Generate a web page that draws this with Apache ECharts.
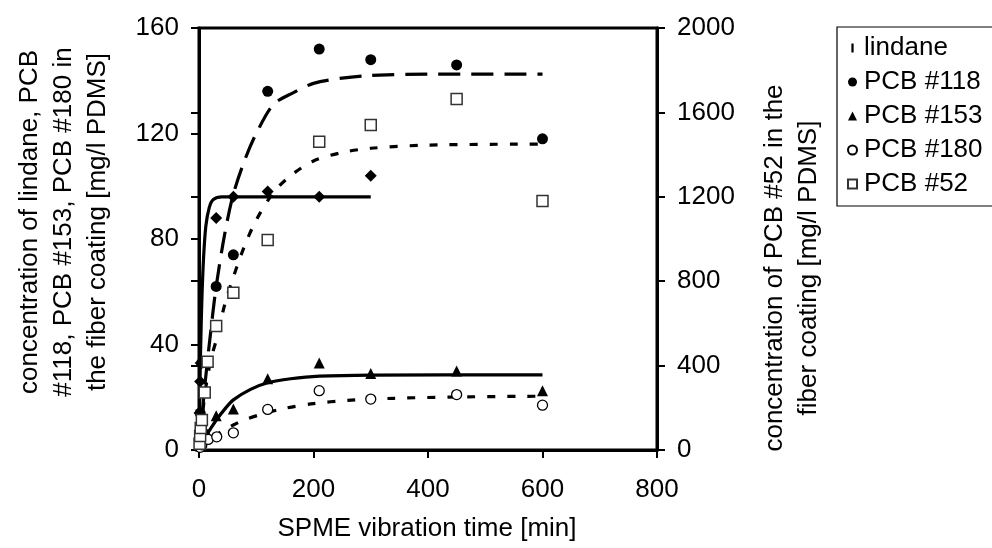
<!DOCTYPE html>
<html>
<head>
<meta charset="utf-8">
<script src="https://cdn.jsdelivr.net/npm/echarts@6/dist/echarts.min.js"></script>
<style>html,body{margin:0;padding:0;background:#fff}#c{width:992px;height:548px}</style>
</head>
<body>
<div id="c"></div>
<script>
// ---- measured points (x = vibration time in min) ----
var lindaneT = [1, 2, 3, 30, 60, 120, 210, 300];
var lindaneV = [14, 26, 33, 88, 96, 98, 96, 104];
var pcb118T = [2, 5, 30, 60, 120, 210, 300, 450, 600];
var pcb118V = [14, 33, 62, 74, 136, 152, 148, 146, 118];
var pcb153T = [2, 5, 15, 30, 60, 120, 210, 300, 450, 600];
var pcb153V = [1.5, 3, 6, 13, 15.5, 27, 33, 29, 30, 22.5];
var pcb180T = [2, 5, 16, 31, 60, 120, 210, 300, 450, 600];
var pcb180V = [1, 2, 4, 5, 6.5, 15.4, 22.5, 19.3, 21, 17];
var pcb52T = [1, 2, 3, 5, 10, 15, 30, 60, 120, 210, 300, 450, 600];
var pcb52V = [30, 66, 104, 142, 272, 418, 588, 745, 995, 1461, 1540, 1663, 1180];

// ---- fitted curves ----
var fitLindaneT = [0, 1, 2, 3, 5, 8, 12, 18, 25, 40, 300];
var fitLindaneV = [0, 16, 29, 40, 57, 73, 85, 92, 95, 96, 96];
var fit118T = [0, 10, 20, 30, 45, 60, 80, 100, 130, 165, 200, 250, 300, 400, 600];
var fit118V = [0, 24, 44, 62, 82, 97, 110, 120, 131, 135.5, 139, 141, 142, 142.5, 142.5];
var fit153T = [0, 10, 20, 30, 45, 60, 90, 120, 160, 210, 300, 600];
var fit153V = [0, 4.5, 8, 11.3, 15.5, 19, 23, 25.5, 27, 28, 28.4, 28.5];
var fit180T = [0, 10, 20, 30, 45, 60, 80, 110, 150, 200, 260, 340, 450, 600];
var fit180V = [0, 2, 3.9, 5.6, 7.8, 9.5, 11.5, 13.6, 15.8, 17.6, 18.8, 19.6, 20.1, 20.4];
var fit52T = [0, 10, 20, 30, 45, 60, 80, 100, 130, 160, 200, 250, 300, 400, 600];
var fit52V = [0, 260, 420, 520, 690, 820, 970, 1090, 1220, 1300, 1370, 1410, 1430, 1445, 1450];

// ---- axis ticks ----
var xTicks = [0, 200, 400, 600, 800];
var yLeftTicks = [0, 40, 80, 120, 160];
var yRightTicks = [0, 400, 800, 1200, 1600, 2000];

function pairs(t, v) { return t.map(function (x, i) { return [x, v[i]]; }); }

var FONT = '"Liberation Sans", Arial, sans-serif';
var FS = 26;
var chart = echarts.init(document.getElementById('c'), null, {renderer: 'canvas'});

function fitSeries(name, t, v, yIdx, type) {
  return {
    name: name, type: 'line', yAxisIndex: yIdx, data: pairs(t, v),
    showSymbol: false, symbol: 'none', smooth: 0.3, silent: true, z: 2,
    lineStyle: {color: '#000', width: 3.2, type: type, cap: 'butt'}
  };
}
function ptSeries(name, t, v, yIdx, symbol, size, fill, border, bw) {
  return {
    name: name, type: 'scatter', yAxisIndex: yIdx, data: pairs(t, v),
    symbol: symbol, symbolSize: size, z: 3,
    itemStyle: {color: fill, borderColor: border, borderWidth: bw, opacity: 1}
  };
}
function plain(v) { return String(v); }

var option = {
  animation: false,
  backgroundColor: '#fff',
  textStyle: {fontFamily: FONT, color: '#000'},
  grid: {left: 199, right: 335, top: 28, bottom: 98, show: true,
         borderColor: '#000', borderWidth: 3, backgroundColor: 'transparent'},
  legend: {
    orient: 'vertical', left: 837, top: 27,
    padding: [8, 40, 9, 10], itemGap: 8, itemWidth: 9, itemHeight: 9,
    borderColor: '#000', borderWidth: 1.2,
    textStyle: {fontFamily: FONT, fontSize: FS, color: '#000', padding: [0, 0, 0, 2]},
    data: [
      {name: 'lindane', icon: 'path://M0,0 L2,0 L2,8 L0,8 Z'},
      {name: 'PCB #118'}, {name: 'PCB #153'}, {name: 'PCB #180'}, {name: 'PCB #52'}
    ]
  },
  xAxis: {
    type: 'value', min: xTicks[0], max: xTicks[xTicks.length - 1], interval: xTicks[1] - xTicks[0],
    splitLine: {show: false},
    axisLine: {show: true, onZero: false, lineStyle: {color: '#000', width: 3}},
    axisTick: {show: true, inside: false, length: 8, lineStyle: {color: '#000', width: 2}},
    axisLabel: {fontFamily: FONT, fontSize: FS, color: '#000', margin: 27, formatter: plain}
  },
  yAxis: [
    {
      type: 'value', min: yLeftTicks[0], max: yLeftTicks[yLeftTicks.length - 1], interval: yLeftTicks[1] - yLeftTicks[0],
      position: 'left', splitLine: {show: false},
      axisLine: {show: true, onZero: false, lineStyle: {color: '#000', width: 3}},
      axisTick: {show: true, inside: false, length: 8, lineStyle: {color: '#000', width: 2}},
      axisLabel: {fontFamily: FONT, fontSize: FS, color: '#000', margin: 20, formatter: plain}
    },
    {
      type: 'value', min: yRightTicks[0], max: yRightTicks[yRightTicks.length - 1], interval: yRightTicks[1] - yRightTicks[0],
      position: 'right', splitLine: {show: false},
      axisLine: {show: true, onZero: false, lineStyle: {color: '#000', width: 3}},
      axisTick: {show: true, inside: false, length: 8, lineStyle: {color: '#000', width: 2}},
      axisLabel: {fontFamily: FONT, fontSize: FS, color: '#000', margin: 20, formatter: plain}
    },
    {
      type: 'value', min: yRightTicks[0], max: yRightTicks[yRightTicks.length - 1], interval: yRightTicks[1] - yRightTicks[0],
      position: 'right', splitLine: {show: false},
      axisLine: {show: false},
      axisTick: {show: true, inside: true, length: 8, lineStyle: {color: '#000', width: 2}},
      axisLabel: {show: false}
    }
  ],
  graphic: [
    {type: 'text', x: 64, y: 222, rotation: Math.PI / 2,
     style: {text: 'concentration of lindane, PCB\n#118, PCB #153, PCB #180 in\nthe fiber coating [mg/l PDMS]',
             font: FS + 'px ' + FONT, fill: '#000', align: 'center', verticalAlign: 'middle', lineHeight: 34}},
    {type: 'text', x: 792, y: 268, rotation: Math.PI / 2,
     style: {text: 'concentration of PCB #52 in the\nfiber coating [mg/l PDMS]',
             font: FS + 'px ' + FONT, fill: '#000', align: 'center', verticalAlign: 'middle', lineHeight: 34}},
    {type: 'text', x: 427, y: 529,
     style: {text: 'SPME vibration time [min]', font: FS + 'px ' + FONT, fill: '#000',
             align: 'center', verticalAlign: 'middle'}}
  ],
  series: [
    fitSeries('fit lindane', fitLindaneT, fitLindaneV, 0, 'solid'),
    fitSeries('fit PCB #118', fit118T, fit118V, 0, [22, 11]),
    fitSeries('fit PCB #153', fit153T, fit153V, 0, 'solid'),
    fitSeries('fit PCB #180', fit180T, fit180V, 0, [8, 12]),
    fitSeries('fit PCB #52', fit52T, fit52V, 1, [8, 12]),
    ptSeries('lindane', lindaneT, lindaneV, 0, 'diamond', [12, 12], '#000', '#000', 0),
    ptSeries('PCB #118', pcb118T, pcb118V, 0, 'circle', 11, '#000', '#000', 0),
    ptSeries('PCB #153', pcb153T, pcb153V, 0, 'triangle', 11, '#000', '#000', 0),
    ptSeries('PCB #180', pcb180T, pcb180V, 0, 'circle', 10, '#fff', '#000', 1.3),
    ptSeries('PCB #52', pcb52T, pcb52V, 1, 'rect', 11, '#fff', '#333', 1.5)
  ]
};
chart.setOption(option);
</script>
</body>
</html>
